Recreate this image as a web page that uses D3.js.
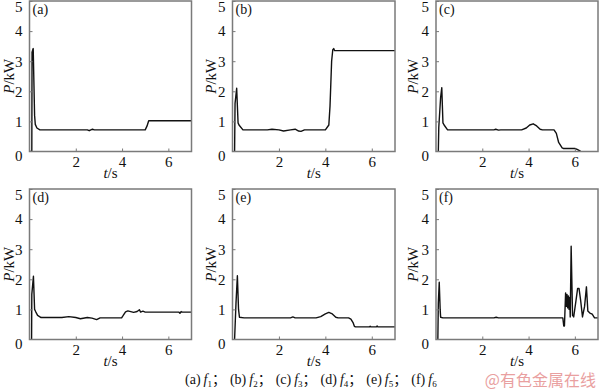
<!DOCTYPE html>
<html>
<head>
<meta charset="utf-8">
<script src="https://cdn.jsdelivr.net/npm/d3@7"></script>
<style>
  body { margin: 0; background: #fff; }
  svg { display: block; }
</style>
</head>
<body>
<svg width="600" height="391"></svg>
<script>
// time (s) and power (kW)
const tA = [0, 0.1, 0.11, 0.16, 0.22, 0.25, 0.32, 0.45, 2.5, 2.58, 2.65, 2.72, 2.8, 5.0, 5.08, 5.15, 7];
const pA = [0, 0, 3.3, 3.42, 1.2, 0.9, 0.78, 0.72, 0.72, 0.69, 0.72, 0.74, 0.72, 0.72, 0.85, 1.02, 1.02];

const tB = [0.09, 0.11, 0.18, 0.24, 0.28, 0.45, 1.5, 1.7, 2.0, 2.2, 2.5, 2.7, 2.85, 2.95, 3.1, 4.0, 4.15, 4.2, 4.27, 4.32, 4.36, 4.4, 7];
const pB = [0, 1.6, 2.1, 0.95, 0.88, 0.72, 0.72, 0.74, 0.72, 0.68, 0.72, 0.74, 0.68, 0.67, 0.72, 0.72, 0.88, 1.5, 3.0, 3.38, 3.42, 3.35, 3.35];

const tC = [0.1, 0.12, 0.2, 0.25, 0.3, 0.35, 0.5, 2.5, 2.58, 2.7, 2.8, 3.7, 3.9, 4.05, 4.2, 4.35, 4.5, 4.6, 5.1, 5.2, 5.3, 5.45, 5.5, 6.0, 6.1, 6.2, 6.26];
const pC = [0, 0.8, 1.8, 2.12, 0.95, 0.88, 0.72, 0.72, 0.74, 0.71, 0.72, 0.72, 0.78, 0.88, 0.92, 0.85, 0.74, 0.72, 0.72, 0.6, 0.3, 0.12, 0.1, 0.1, 0.07, 0.03, 0];

const tD = [0.09, 0.1, 0.17, 0.22, 0.27, 0.35, 0.5, 1.4, 1.7, 2.0, 2.2, 2.5, 2.7, 2.9, 3.05, 3.98, 4.05, 4.15, 4.25, 4.5, 4.65, 4.75, 4.8, 4.9, 5.0, 6.45, 6.5, 6.55, 6.6, 7];
const pD = [0, 1.5, 2.1, 1.0, 0.92, 0.8, 0.73, 0.73, 0.76, 0.73, 0.69, 0.73, 0.71, 0.66, 0.72, 0.72, 0.8, 0.92, 0.95, 0.9, 0.93, 0.99, 0.91, 0.94, 0.91, 0.91, 0.87, 0.93, 0.91, 0.91];

const tE = [0.09, 0.15, 0.21, 0.26, 0.3, 0.5, 2.5, 2.6, 2.7, 3.6, 3.8, 4.0, 4.15, 4.3, 4.45, 4.55, 5.0, 5.1, 5.2, 5.25, 5.3, 5.9, 5.93, 5.96, 6.2, 6.23, 6.26, 7];
const pE = [0, 1.2, 2.12, 1.0, 0.74, 0.72, 0.72, 0.75, 0.72, 0.72, 0.76, 0.85, 0.9, 0.85, 0.74, 0.72, 0.72, 0.68, 0.55, 0.44, 0.42, 0.42, 0.44, 0.42, 0.42, 0.45, 0.42, 0.42];

const tF = [0.08, 0.1, 0.14, 0.18, 0.2, 0.3, 2.5, 2.6, 2.7, 5.48, 5.52, 5.55, 5.6, 5.63, 5.66, 5.69, 5.72, 5.75, 5.78, 5.8, 5.84, 5.9, 5.95, 6.05, 6.12, 6.18, 6.25, 6.33, 6.42, 6.5, 6.56, 6.65, 6.75, 6.85, 7];
const pF = [0, 1.2, 1.9, 1.0, 0.74, 0.72, 0.72, 0.74, 0.72, 0.72, 0.45, 0.45, 1.55, 1.1, 1.5, 1.05, 1.45, 1.0, 1.4, 0.75, 3.1, 0.8, 0.75, 1.3, 1.7, 1.7, 1.3, 0.75, 1.1, 1.75, 0.95, 0.88, 0.84, 0.72, 0.72];

const panelLabels = ["(a)", "(b)", "(c)", "(d)", "(e)", "(f)"];
const xTicks = [2, 4, 6];
const yTicks = [0, 1, 2, 3, 4, 5];
const captionSubs = ["1", "2", "3", "4", "5", "6"];

const series = [[tA, pA], [tB, pB], [tC, pC], [tD, pD], [tE, pE], [tF, pF]];

// panel frames in pixels
const cols = [[29.5, 191.5], [232.5, 395], [436, 598]];
const rows = [[1, 151.5], [189, 339.5]];
const yLabelX = [14, 216, 418];

const svg = d3.select("svg");
const serif = '"Liberation Serif", "Times New Roman", serif';

series.forEach(([ts, ps], i) => {
    const col = cols[i % 3], row = rows[Math.floor(i / 3)];
    const x = d3.scaleLinear().domain([0, 7]).range(col);
    const y = d3.scaleLinear().domain([0, 5]).range([row[1], row[0]]);
    const g = svg.append("g");

    g.append("clipPath").attr("id", "clip" + i)
        .append("rect")
        .attr("x", col[0]).attr("y", row[0])
        .attr("width", col[1] - col[0]).attr("height", row[1] - row[0]);

    const pts = ts.map((t, k) => [t, ps[k]]);
    g.append("path")
        .datum(pts)
        .attr("clip-path", "url(#clip" + i + ")")
        .attr("fill", "none")
        .attr("stroke", "#111")
        .attr("stroke-width", 1.4)
        .attr("stroke-linejoin", "round")
        .attr("d", d3.line().x(d => x(d[0])).y(d => y(d[1])));

    // frame
    g.append("rect")
        .attr("x", col[0]).attr("y", row[0])
        .attr("width", col[1] - col[0]).attr("height", row[1] - row[0])
        .attr("fill", "none").attr("stroke", "#7a7a7a").attr("stroke-width", 1.5);

    const xAxis = g.append("g")
        .attr("transform", "translate(0," + row[1] + ")")
        .call(d3.axisBottom(x).tickValues(xTicks).tickFormat(d3.format("d")).tickSize(-3).tickPadding(5));
    const yAxis = g.append("g")
        .attr("transform", "translate(" + col[0] + ",0)")
        .call(d3.axisLeft(y).tickValues(yTicks).tickFormat(d3.format("d")).tickSize(-3).tickPadding(7));
    [xAxis, yAxis].forEach(a => {
        a.select(".domain").remove();
        a.selectAll(".tick line").attr("stroke", "#7a7a7a");
        a.selectAll(".tick text")
            .attr("fill", "#111")
            .attr("font-family", serif)
            .attr("font-size", 15);
    });
    yAxis.selectAll(".tick text").filter(d => d === 0).attr("dy", "0.6em");
    yAxis.selectAll(".tick text").filter(d => d === 5).attr("dy", "0.68em");
    yAxis.selectAll(".tick line").filter(d => d === 0).remove();

    g.append("text")
        .attr("x", col[0] + 3).attr("y", row[0] + 13)
        .attr("font-family", serif).attr("font-size", 14).attr("fill", "#111")
        .text(panelLabels[i]);

    const xl = g.append("text")
        .attr("x", (col[0] + col[1]) / 2).attr("y", row[1] + 26)
        .attr("text-anchor", "middle")
        .attr("font-family", serif).attr("font-size", 15).attr("fill", "#111");
    xl.append("tspan").attr("font-style", "italic").text("t");
    xl.append("tspan").text("/s");

    const yl = g.append("text")
        .attr("transform", "translate(" + yLabelX[i % 3] + "," + (row[0] + row[1]) / 2 + ") rotate(-90)")
        .attr("text-anchor", "middle")
        .attr("font-family", serif).attr("font-size", 15).attr("fill", "#111");
    yl.append("tspan").attr("font-style", "italic").text("P");
    yl.append("tspan").text("/kW");
});

// caption
const cap = svg.append("text")
    .attr("x", 185).attr("y", 384)
    .attr("font-family", serif).attr("font-size", 14).attr("fill", "#111");
panelLabels.forEach((lab, i) => {
    cap.append("tspan").attr("dx", i ? 4 : 0).text(lab);
    cap.append("tspan").attr("dx", 3).attr("font-style", "italic").text("f");
    cap.append("tspan").attr("font-size", 9).attr("dy", 3).text(captionSubs[i]);
    cap.append("tspan").attr("dy", -3).attr("font-family", '"Noto Sans CJK SC"')
        .text(i < panelLabels.length - 1 ? "；" : "");
});

svg.append("text")
    .attr("x", 596).attr("y", 386)
    .attr("text-anchor", "end")
    .attr("font-family", '"Noto Sans CJK SC", sans-serif').attr("font-size", 16)
    .attr("fill", "#e9a0a0")
    .text("@有色金属在线");
</script>
</body>
</html>
